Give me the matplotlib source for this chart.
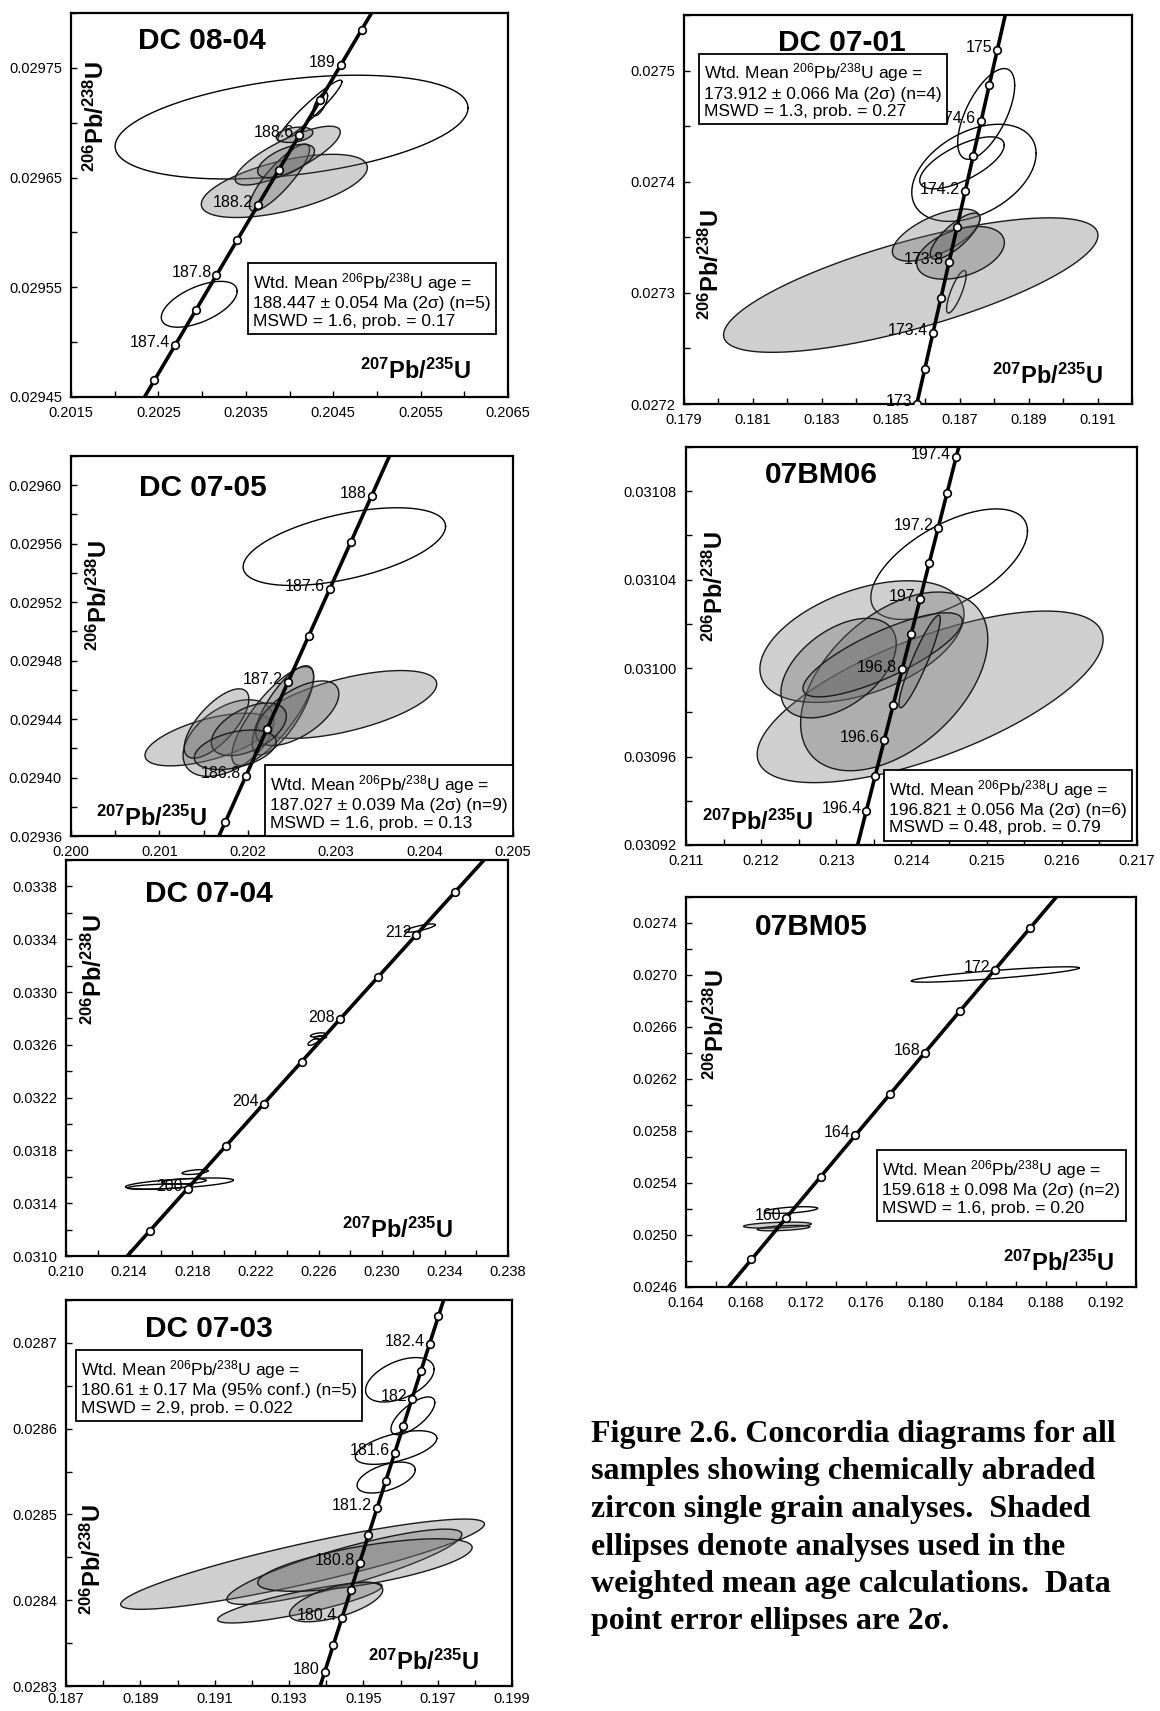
import numpy as np
import matplotlib
matplotlib.use("Agg")
import matplotlib.pyplot as plt

plt.rcParams['font.family'] = ['Liberation Sans', 'DejaVu Sans']
plt.rcParams['mathtext.fontset'] = 'custom'
plt.rcParams['mathtext.rm'] = 'Liberation Sans'
plt.rcParams['mathtext.bf'] = 'Liberation Sans:bold'
plt.rcParams['mathtext.it'] = 'Liberation Sans:italic'

# decay constants (per Ma)
L238 = 1.55125e-4
L235 = 9.8485e-4

# ---------------- DATA ----------------
# Panel 1: DC 08-04
p1_name = "DC 08-04"
p1_xlim = (0.2015, 0.2065); p1_xstep = 0.0005
p1_xlabels = ['0.2015', '0.2025', '0.2035', '0.2045', '0.2055', '0.2065']
p1_ylim = (0.02945, 0.02980); p1_ystep = 0.00005
p1_ylabels = ['0.02945', '0.02955', '0.02965', '0.02975']
p1_ages = [187.2, 187.4, 187.6, 187.8, 188.0, 188.2, 188.4, 188.6, 188.8, 189.0, 189.2]
p1_age_labels = ['187.4', '187.8', '188.2', '188.6', '189']
p1_cx = [0.204024, 0.202967, 0.204233, 0.204352, 0.203941, 0.203980, 0.203885, 0.203961, 0.204057]
p1_cy = [0.029696, 0.0295345, 0.029711, 0.029717, 0.0296424, 0.029670, 0.029650, 0.029665, 0.029689]
p1_sx = [0.002019, 0.000434, 0.000367, 0.0000842, 0.000950, 0.000601, 0.000344, 0.000325, 0.000210]
p1_sy = [0.0000473, 0.0000209, 0.0000278, 0.0000107, 0.0000288, 0.0000268, 0.0000305, 0.0000153, 0.0000070]
p1_rho = [0.37, 0.57, 0.95, 0.7, 0.58, 0.80, 0.85, 0.6, 0.3]
p1_shaded = [0, 0, 0, 0, 1, 1, 1, 1, 1]
p1_box = ["Wtd. Mean $^{206}$Pb/$^{238}$U age =",
          "188.447 \u00b1 0.054 Ma (2\u03c3) (n=5)",
          "MSWD = 1.6, prob. = 0.17"]

# Panel 2: DC 07-01
p2_name = "DC 07-01"
p2_xlim = (0.179, 0.192); p2_xstep = 0.001
p2_xlabels = ['0.179', '0.181', '0.183', '0.185', '0.187', '0.189', '0.191']
p2_ylim = (0.0272, 0.02755); p2_ystep = 0.00005
p2_ylabels = ['0.0272', '0.0273', '0.0274', '0.0275']
p2_ages = [173.0, 173.2, 173.4, 173.6, 173.8, 174.0, 174.2, 174.4, 174.6, 174.8, 175.0]
p2_age_labels = ['173', '173.4', '173.8', '174.2', '174.6', '175']
p2_cx = [0.187413, 0.187066, 0.187769, 0.186904, 0.185580, 0.186317, 0.187025, 0.186866]
p2_cy = [0.027408, 0.027417, 0.027461, 0.027301, 0.027307, 0.027352, 0.027336, 0.027351]
p2_sx = [0.001804, 0.001226, 0.000827, 0.000285, 0.005432, 0.001271, 0.001271, 0.000722]
p2_sy = [0.0000437, 0.0000234, 0.0000408, 0.0000192, 0.0000605, 0.0000234, 0.0000237, 0.0000207]
p2_rho = [0.40, 0.68, 0.63, 0.80, 0.74, 0.63, 0.39, 0.78]
p2_shaded = [0, 0, 0, 0, 1, 1, 1, 1]
p2_box = ["Wtd. Mean $^{206}$Pb/$^{238}$U age =",
          "173.912 \u00b1 0.066 Ma (2\u03c3) (n=4)",
          "MSWD = 1.3, prob. = 0.27"]

# Panel 3: DC 07-05
p3_name = "DC 07-05"
p3_xlim = (0.200, 0.205); p3_xstep = 0.0005
p3_xlabels = ['0.200', '0.201', '0.202', '0.203', '0.204', '0.205']
p3_ylim = (0.02936, 0.02962); p3_ystep = 0.00002
p3_ylabels = ['0.02936', '0.02940', '0.02944', '0.02948', '0.02952', '0.02956', '0.02960']
p3_ages = [186.6, 186.8, 187.0, 187.2, 187.4, 187.6, 187.8, 188.0]
p3_age_labels = ['186.8', '187.2', '187.6', '188']
p3_cx = [0.203092, 0.203123, 0.201550, 0.201781, 0.201646, 0.202282, 0.202398, 0.202560, 0.202012, 0.201858]
p3_cy = [0.029558, 0.029450, 0.029426, 0.029427, 0.029437, 0.029442, 0.029446, 0.029444, 0.029433, 0.029419]
p3_sx = [0.001145, 0.001014, 0.000713, 0.000513, 0.000366, 0.000463, 0.000347, 0.000470, 0.000424, 0.000463]
p3_sy = [0.0000266, 0.0000232, 0.0000180, 0.0000262, 0.0000237, 0.0000338, 0.0000305, 0.0000221, 0.0000180, 0.0000135]
p3_rho = [0.52, 0.6, 0.6, 0.45, 0.7, 0.8, 0.75, 0.6, 0.5, 0.4]
p3_shaded = [0, 1, 1, 1, 1, 1, 1, 1, 1, 1]
p3_box = ["Wtd. Mean $^{206}$Pb/$^{238}$U age =",
          "187.027 \u00b1 0.039 Ma (2\u03c3) (n=9)",
          "MSWD = 1.6, prob. = 0.13"]

# Panel 4: 07BM06
p4_name = "07BM06"
p4_xlim = (0.211, 0.217); p4_xstep = 0.0005
p4_xlabels = ['0.211', '0.212', '0.213', '0.214', '0.215', '0.216', '0.217']
p4_ylim = (0.03092, 0.03110); p4_ystep = 0.00002
p4_ylabels = ['0.03092', '0.03096', '0.03100', '0.03104', '0.03108']
p4_ages = [196.4, 196.5, 196.6, 196.7, 196.8, 196.9, 197.0, 197.1, 197.2, 197.3, 197.4]
p4_age_labels = ['196.4', '196.6', '196.8', '197', '197.2', '197.4']
p4_cx = [0.214501, 0.214248, 0.213341, 0.213770, 0.213030, 0.213616, 0.214108]
p4_cy = [0.031047, 0.030987, 0.031012, 0.030994, 0.031000, 0.031006, 0.031003]
p4_sx = [0.001042, 0.002301, 0.001358, 0.001245, 0.000767, 0.001060, 0.000275]
p4_sy = [0.0000250, 0.0000388, 0.0000275, 0.0000404, 0.0000225, 0.0000190, 0.0000209]
p4_rho = [0.6, 0.67, 0.45, 0.47, 0.49, 0.80, 0.92]
p4_shaded = [0, 1, 1, 1, 1, 1, 1]
p4_box = ["Wtd. Mean $^{206}$Pb/$^{238}$U age =",
          "196.821 \u00b1 0.056 Ma (2\u03c3) (n=6)",
          "MSWD = 0.48, prob. = 0.79"]

# Panel 5: DC 07-04
p5_name = "DC 07-04"
p5_xlim = (0.210, 0.238); p5_xstep = 0.002
p5_xlabels = ['0.210', '0.214', '0.218', '0.222', '0.226', '0.230', '0.234', '0.238']
p5_ylim = (0.0310, 0.0340); p5_ystep = 0.0002
p5_ylabels = ['0.0310', '0.0314', '0.0318', '0.0322', '0.0326', '0.0330', '0.0334', '0.0338']
p5_ages = [198, 200, 202, 204, 206, 208, 210, 212, 214]
p5_age_labels = ['200', '204', '208', '212']
p5_cx = [0.232420, 0.225956, 0.225675, 0.226107, 0.217178, 0.215946, 0.218172, 0.217459]
p5_cy = [0.033484, 0.032675, 0.032622, 0.032656, 0.031549, 0.031526, 0.031636, 0.031565]
p5_sx = [0.000973, 0.000476, 0.000346, 0.000389, 0.003416, 0.002054, 0.000822, 0.001405]
p5_sy = [0.0000316, 0.0000158, 0.0000263, 0.0000131, 0.0000421, 0.0000210, 0.0000184, 0.0000210]
p5_rho = [0.8, 0.5, 0.7, 0.3, 0.6, 0.5, 0.5, 0.4]
p5_shaded = [0, 0, 0, 0, 0, 0, 0, 0]
p5_box = None

# Panel 6: 07BM05
p6_name = "07BM05"
p6_xlim = (0.164, 0.194); p6_xstep = 0.002
p6_xlabels = ['0.164', '0.168', '0.172', '0.176', '0.180', '0.184', '0.188', '0.192']
p6_ylim = (0.0246, 0.0276); p6_ystep = 0.0002
p6_ylabels = ['0.0246', '0.0250', '0.0254', '0.0258', '0.0262', '0.0266', '0.0270', '0.0274']
p6_ages = [158, 160, 162, 164, 166, 168, 170, 172, 174]
p6_age_labels = ['160', '164', '168', '172']
p6_cx = [0.184616, 0.171000, 0.170097, 0.170503]
p6_cy = [0.027004, 0.025192, 0.025076, 0.025053]
p6_sx = [0.005600, 0.001761, 0.002258, 0.001761]
p6_sy = [0.0000592, 0.0000257, 0.0000232, 0.0000206]
p6_rho = [0.85, 0.5, 0.4, 0.5]
p6_shaded = [0, 0, 1, 1]
p6_box = ["Wtd. Mean $^{206}$Pb/$^{238}$U age =",
          "159.618 \u00b1 0.098 Ma (2\u03c3) (n=2)",
          "MSWD = 1.6, prob. = 0.20"]

# Panel 7: DC 07-03
p7_name = "DC 07-03"
p7_xlim = (0.187, 0.199); p7_xstep = 0.001
p7_xlabels = ['0.187', '0.189', '0.191', '0.193', '0.195', '0.197', '0.199']
p7_ylim = (0.0283, 0.02875); p7_ystep = 0.00005
p7_ylabels = ['0.0283', '0.0284', '0.0285', '0.0286', '0.0287']
p7_ages = [180.0, 180.2, 180.4, 180.6, 180.8, 181.0, 181.2, 181.4, 181.6, 181.8, 182.0, 182.2, 182.4, 182.6]
p7_age_labels = ['180', '180.4', '180.8', '181.2', '181.6', '182', '182.4']
p7_cx = [0.195982, 0.196333, 0.195881, 0.195614, 0.193365, 0.194489, 0.193291, 0.195042, 0.194268]
p7_cy = [0.028657, 0.028615, 0.028578, 0.028543, 0.028442, 0.028439, 0.028397, 0.028441, 0.028398]
p7_sx = [0.000922, 0.000590, 0.001097, 0.000783, 0.004894, 0.003161, 0.002212, 0.002885, 0.001254]
p7_sy = [0.0000259, 0.0000220, 0.0000196, 0.0000180, 0.0000526, 0.0000439, 0.0000235, 0.0000306, 0.0000231]
p7_rho = [0.47, 0.7, 0.55, 0.5, 0.89, 0.86, 0.83, 0.67, 0.61]
p7_shaded = [0, 0, 0, 0, 1, 1, 1, 1, 1]
p7_box = ["Wtd. Mean $^{206}$Pb/$^{238}$U age =",
          "180.61 \u00b1 0.17 Ma (95% conf.) (n=5)",
          "MSWD = 2.9, prob. = 0.022"]

caption_lines = ["Figure 2.6. Concordia diagrams for all",
                 "samples showing chemically abraded",
                 "zircon single grain analyses.  Shaded",
                 "ellipses denote analyses used in the",
                 "weighted mean age calculations.  Data",
                 "point error ellipses are 2\u03c3."]

# ---------------- LAYOUT ----------------
W, H = 1160, 1711
fig = plt.figure(figsize=(W / 100, H / 100), dpi=100)

FS_TICK = 10.5
FS_TITLE = 21.5
FS_AXLAB = 17
FS_BOX = 12.5
FS_AGE = 11.5

LAB206 = r"$^{\mathbf{206}}\mathbf{Pb/}^{\mathbf{238}}\mathbf{U}$"
LAB207 = r"$^{\mathbf{207}}\mathbf{Pb/}^{\mathbf{235}}\mathbf{U}$"

panels = [
    dict(px=(71, 508, 13, 397), name=p1_name, xlim=p1_xlim, xstep=p1_xstep, xlabels=p1_xlabels,
         ylim=p1_ylim, ystep=p1_ystep, ylabels=p1_ylabels, ages=p1_ages, age_labels=p1_age_labels,
         ell=(p1_cx, p1_cy, p1_sx, p1_sy, p1_rho, p1_shaded), box=p1_box, xpad=6.5,
         title=(0.30, 0.906), boxpos=(0.405, 0.342), corner='tl', l206=(0.057, 0.731), l207=(0.789, 0.048)),
    dict(px=(684, 1132, 15, 404), name=p2_name, xlim=p2_xlim, xstep=p2_xstep, xlabels=p2_xlabels,
         ylim=p2_ylim, ystep=p2_ystep, ylabels=p2_ylabels, ages=p2_ages, age_labels=p2_age_labels,
         ell=(p2_cx, p2_cy, p2_sx, p2_sy, p2_rho, p2_shaded), box=p2_box, xpad=6.5,
         title=(0.352, 0.908), boxpos=(0.034, 0.894), corner='tl', l206=(0.062, 0.358), l207=(0.812, 0.051)),
    dict(px=(71, 513, 456, 836), name=p3_name, xlim=p3_xlim, xstep=p3_xstep, xlabels=p3_xlabels,
         ylim=p3_ylim, ystep=p3_ystep, ylabels=p3_ylabels, ages=p3_ages, age_labels=p3_age_labels,
         ell=(p3_cx, p3_cy, p3_sx, p3_sy, p3_rho, p3_shaded), box=p3_box, xpad=6.5,
         title=(0.298, 0.896), boxpos=(1.0, 0.0), corner='br', l206=(0.063, 0.633), l207=(0.183, 0.026)),
    dict(px=(686, 1137, 447, 845), name=p4_name, xlim=p4_xlim, xstep=p4_xstep, xlabels=p4_xlabels,
         ylim=p4_ylim, ystep=p4_ystep, ylabels=p4_ylabels, ages=p4_ages, age_labels=p4_age_labels,
         ell=(p4_cx, p4_cy, p4_sx, p4_sy, p4_rho, p4_shaded), box=p4_box, xpad=6.5,
         title=(0.301, 0.909), boxpos=(0.989, 0.011), corner='br', l206=(0.066, 0.651), l207=(0.159, 0.039)),
    dict(px=(66, 508, 860, 1256), name=p5_name, xlim=p5_xlim, xstep=p5_xstep, xlabels=p5_xlabels,
         ylim=p5_ylim, ystep=p5_ystep, ylabels=p5_ylabels, ages=p5_ages, age_labels=p5_age_labels,
         ell=(p5_cx, p5_cy, p5_sx, p5_sy, p5_rho, p5_shaded), box=p5_box, xpad=6.5,
         title=(0.323, 0.894), boxpos=None, corner='tl', l206=(0.063, 0.724), l207=(0.751, 0.046)),
    dict(px=(686, 1136, 897, 1287), name=p6_name, xlim=p6_xlim, xstep=p6_xstep, xlabels=p6_xlabels,
         ylim=p6_ylim, ystep=p6_ystep, ylabels=p6_ylabels, ages=p6_ages, age_labels=p6_age_labels,
         ell=(p6_cx, p6_cy, p6_sx, p6_sy, p6_rho, p6_shaded), box=p6_box, xpad=6.5,
         title=(0.278, 0.902), boxpos=(0.425, 0.344), corner='tl', l206=(0.068, 0.674), l207=(0.829, 0.042)),
    dict(px=(66, 512, 1300, 1686), name=p7_name, xlim=p7_xlim, xstep=p7_xstep, xlabels=p7_xlabels,
         ylim=p7_ylim, ystep=p7_ystep, ylabels=p7_ylabels, ages=p7_ages, age_labels=p7_age_labels,
         ell=(p7_cx, p7_cy, p7_sx, p7_sy, p7_rho, p7_shaded), box=p7_box, xpad=4.0,
         title=(0.321, 0.904), boxpos=(0.022, 0.863), corner='tl', l206=(0.061, 0.327), l207=(0.803, 0.043)),
]


def conc(t):
    t = np.asarray(t, dtype=float)
    return np.exp(L235 * t) - 1.0, np.exp(L238 * t) - 1.0


def ellipse_pts(cx, cy, sx, sy, rho, n=300):
    th = np.linspace(0, 2 * np.pi, n)
    x = cx + sx * np.cos(th)
    y = cy + sy * (rho * np.cos(th) + np.sqrt(1 - rho ** 2) * np.sin(th))
    return x, y


for p in panels:
    l, r, t, b = p['px']
    ax = fig.add_axes([l / W, 1 - b / H, (r - l) / W, (b - t) / H])
    ax.set_xlim(*p['xlim'])
    ax.set_ylim(*p['ylim'])
    # ticks
    xmaj = [float(s) for s in p['xlabels']]
    ymaj = [float(s) for s in p['ylabels']]
    ax.set_xticks(xmaj)
    ax.set_xticklabels(p['xlabels'])
    ax.set_yticks(ymaj)
    ax.set_yticklabels(p['ylabels'])
    x0, x1 = p['xlim']; y0, y1 = p['ylim']
    ax.set_xticks(np.arange(x0, x1 + p['xstep'] / 2, p['xstep']), minor=True)
    ax.set_yticks(np.arange(y0, y1 + p['ystep'] / 2, p['ystep']), minor=True)
    ax.tick_params(which='both', direction='in', length=4.5, width=1.0,
                   labelsize=FS_TICK, top=False, right=False)
    ax.tick_params(axis='x', which='both', pad=p['xpad'])
    ax.tick_params(axis='y', which='both', pad=6.5)
    for s in ax.spines.values():
        s.set_linewidth(1.6)

    # ellipses
    cx, cy, sx, sy, rho, sh = p['ell']
    for i in range(len(cx)):
        ex, ey = ellipse_pts(cx[i], cy[i], sx[i], sy[i], rho[i])
        if sh[i]:
            ax.fill(ex, ey, facecolor=(0.42, 0.42, 0.42, 0.32), edgecolor='#1a1a1a',
                    linewidth=1.0, zorder=3)
        else:
            ax.plot(ex, ey, color='black', linewidth=1.0, zorder=2)

    # concordia
    tlo = np.log1p(y0) / L238 - 1.0
    thi = np.log1p(y1) / L238 + 1.0
    tt = np.linspace(tlo, thi, 500)
    cxl, cyl = conc(tt)
    ax.plot(cxl, cyl, color='black', linewidth=2.6, zorder=4, solid_capstyle='butt')
    mx, my = conc(p['ages'])
    ax.plot(mx, my, linestyle='none', marker='o', markersize=5.5, markerfacecolor='white',
            markeredgecolor='black', markeredgewidth=1.2, zorder=5)
    for lab in p['age_labels']:
        ax_, ay_ = conc(float(lab))
        ax.annotate(lab, xy=(float(ax_), float(ay_)), xytext=(-3.5, -1.5),
                    textcoords='offset points', ha='right', va='baseline',
                    fontsize=FS_AGE, zorder=6, annotation_clip=False)

    # title & axis labels
    ax.text(p['title'][0], p['title'][1], p['name'], transform=ax.transAxes,
            ha='center', va='baseline', fontsize=FS_TITLE, fontweight='bold', zorder=8)
    ax.text(p['l206'][0], p['l206'][1], LAB206, transform=ax.transAxes, rotation=90,
            ha='center', va='center', fontsize=FS_AXLAB, zorder=8)
    ax.text(p['l207'][0], p['l207'][1], LAB207, transform=ax.transAxes,
            ha='center', va='baseline', fontsize=FS_AXLAB, zorder=8)

    # box
    if p['box'] is not None:
        pad_pt = 0.3 * FS_BOX
        if p['corner'] == 'tl':
            ha, va, off = 'left', 'top', (pad_pt, -pad_pt)
        else:
            ha, va, off = 'right', 'bottom', (-pad_pt, pad_pt)
        ax.annotate('\n'.join(p['box']), xy=p['boxpos'], xycoords='axes fraction',
                    xytext=off, textcoords='offset points', ha=ha, va=va,
                    multialignment='left', fontsize=FS_BOX, zorder=9,
                    bbox=dict(boxstyle='square,pad=0.3', facecolor='white',
                              edgecolor='black', linewidth=1.3))

# caption
cap_x = 591 / W
cap_y0 = 1442
cap_dy = 37.5
for i, line in enumerate(caption_lines):
    fig.text(cap_x, 1 - (cap_y0 + i * cap_dy) / H, line, ha='left', va='baseline',
             fontsize=23, fontweight='bold', family=['Liberation Serif', 'DejaVu Serif'])

fig.savefig('out.png', dpi=100, facecolor='white')
